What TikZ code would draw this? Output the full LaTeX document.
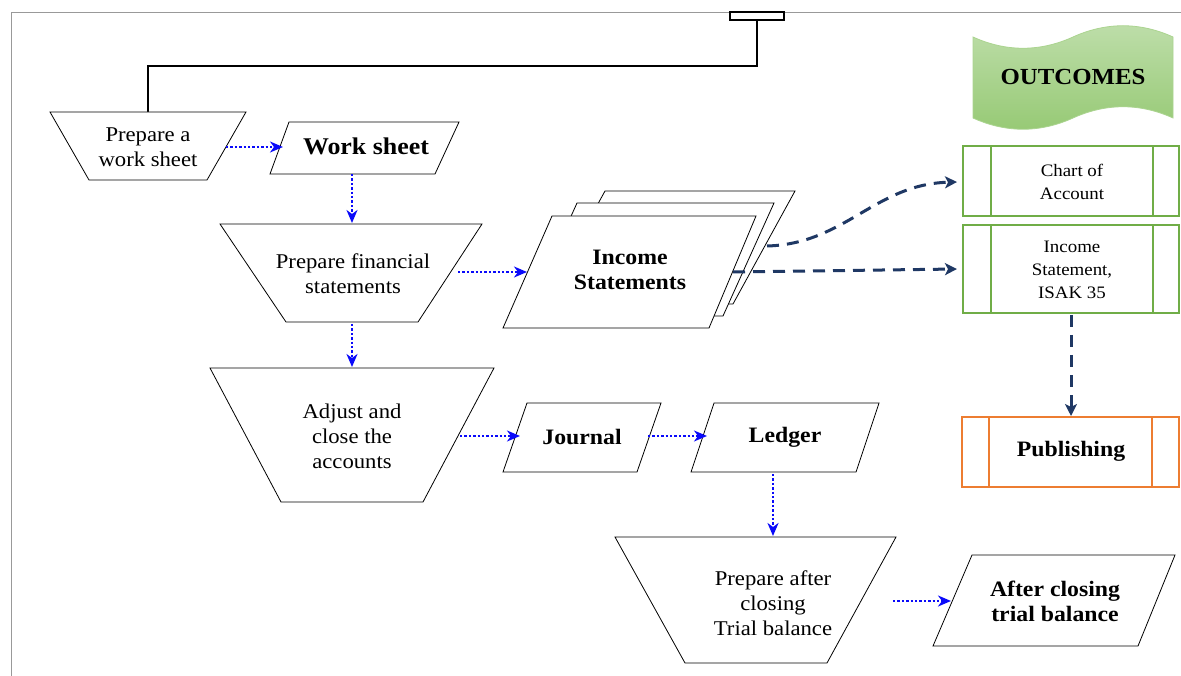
\documentclass[tikz,border=0pt]{standalone}
\usepackage{fontspec}
\setmainfont{Liberation Serif}[FakeStretch=1.08]
\usetikzlibrary{arrows.meta}
\definecolor{bluearr}{RGB}{10,10,250}
\definecolor{navy}{RGB}{31,56,100}
\definecolor{grn}{RGB}{112,173,71}
\definecolor{org}{RGB}{237,125,49}
\definecolor{grnlite}{RGB}{190,222,170}
\definecolor{grndark}{RGB}{150,201,116}
\begin{document}
\begin{tikzpicture}[x=1pt,y=-1pt,
  shp/.style={draw=black, line width=0.8pt, fill=white, line join=miter},
  txt/.style={align=center, inner sep=0pt, font=\fontsize{21}{25}\selectfont},
  btxt/.style={align=center, inner sep=0pt, font=\bfseries\fontsize{22}{25}\selectfont},
  stxt/.style={align=center, inner sep=0pt, font=\fontsize{17.5}{23}\selectfont},
  dotarr/.style={draw=bluearr, line width=2.4pt, dash pattern=on 2.4pt off 2pt, -{Stealth[length=13pt,width=11pt,inset=4pt]}},
  dasharr/.style={draw=navy, line width=3pt, dash pattern=on 12pt off 8pt, -{Stealth[length=12pt,width=12pt,inset=3pt]}},
  procbox/.style={line width=2.2pt, fill=white},
]
\useasboundingbox (0,0) rectangle (1181,676);
% frame
\draw[gray!80, line width=1pt] (11,676) -- (11,13) -- (1181,13);
% top connector
\coordinate (topc) at (757,20);
\coordinate (p1top) at (148,112);
\draw[black, line width=2pt] (topc) -- (757,66) -- (148,66) -- (p1top);
\draw[black, line width=2pt, fill=white] (730,12) rectangle (784,20);

% 1 Prepare a work sheet
\draw[shp] (50,112) -- (246,112) -- (207,180) -- (89,180) -- cycle;
\node[txt] (pws) at (148,147) {Prepare a\\work sheet};
\coordinate (pwsR) at (226,147);
% 2 Work sheet
\draw[shp] (289,122) -- (459,122) -- (435,174) -- (270,174) -- cycle;
\node[btxt, font=\bfseries\fontsize{24}{26}\selectfont] (ws) at (366,146) {Work sheet};
\coordinate (wsL) at (283,147);
\coordinate (wsB) at (352,174);
% 3 Prepare financial statements
\draw[shp] (220,224) -- (482,224) -- (418,322) -- (286,322) -- cycle;
\node[txt] (pfs) at (353,274) {Prepare financial\\statements};
\coordinate (pfsT) at (352,223);
\coordinate (pfsR) at (458,272);
\coordinate (pfsB) at (352,324);
% 4 Income statements (stacked)
\draw[shp] (605,191) -- (795,191) -- (733,304) -- (543,304) -- cycle;
\draw[shp] (577,203) -- (774,203) -- (723,316) -- (526,316) -- cycle;
\draw[shp] (552,216) -- (756,216) -- (709,328) -- (503,328) -- cycle;
\node[btxt] (inc) at (630,270) {Income\\Statements};
\coordinate (incL) at (527,272);
\coordinate (incR) at (733,272);
\coordinate (incR2) at (767,246);
% 5 Adjust and close
\draw[shp] (210,368) -- (494,368) -- (423,502) -- (281,502) -- cycle;
\node[txt] (adj) at (352,436) {Adjust and\\close the\\accounts};
\coordinate (adjT) at (352,367);
\coordinate (adjR) at (460,436);
% 6 Journal
\draw[shp] (527,403) -- (661,403) -- (637,472) -- (503,472) -- cycle;
\node[btxt] (jr) at (582,437) {Journal};
\coordinate (jrL) at (520,436);
\coordinate (jrR) at (648,436);
% 7 Ledger
\draw[shp] (714,403) -- (879,403) -- (856,472) -- (691,472) -- cycle;
\node[btxt] (lg) at (785,437) {Ledger};
\coordinate (lgL) at (707,436);
\coordinate (lgB) at (773,474);
% 8 Prepare after closing
\draw[shp] (615,537) -- (896,537) -- (827,663) -- (685,663) -- cycle;
\node[txt] (pac) at (773,603) {Prepare after\\closing\\Trial balance};
\coordinate (pacT) at (773,536);
\coordinate (pacR) at (893,601);
% 9 After closing trial balance
\draw[shp] (972,555) -- (1175,555) -- (1138,646) -- (933,646) -- cycle;
\node[btxt] (actb) at (1055,601) {After closing\\trial balance};
\coordinate (actbL) at (951,601);

% OUTCOMES banner
\shade[top color=grnlite, bottom color=grndark, draw=grndark!80, line width=0.8pt]
  (973,37) .. controls (1006,52) and (1040,52) .. (1073,37)
  .. controls (1106,22) and (1140,22) .. (1173,37)
  -- (1173,118) .. controls (1140,103) and (1106,103) .. (1073,118)
  .. controls (1040,133) and (1006,133) .. (973,118) -- cycle;
\node[btxt, font=\bfseries\fontsize{23}{26}\selectfont] (out) at (1073,77) {OUTCOMES};

% Chart of account
\draw[procbox, draw=grn] (963,146) rectangle (1179,216);
\draw[grn, line width=2.2pt] (991,146) -- (991,216) (1153,146) -- (1153,216);
\node[stxt] (coa) at (1072,182) {Chart of\\Account};
\coordinate (coaL) at (957,182);
% Income statement ISAK
\draw[procbox, draw=grn] (963,225) rectangle (1179,313);
\draw[grn, line width=2.2pt] (991,225) -- (991,313) (1153,225) -- (1153,313);
\node[stxt] (isak) at (1072,270) {Income\\Statement,\\ISAK 35};
\coordinate (isakL) at (957,269);
\coordinate (isakB) at (1071,315);
% Publishing
\draw[procbox, draw=org] (962,417) rectangle (1179,487);
\draw[org, line width=2.2pt] (989,417) -- (989,487) (1152,417) -- (1152,487);
\node[btxt] (pub) at (1071,451) {Publishing};
\coordinate (pubT) at (1071,416);

% blue dotted connectors
\draw[dotarr] (pwsR) -- (wsL);
\draw[dotarr] (wsB) -- (pfsT);
\draw[dotarr] (pfsR) -- (incL);
\draw[dotarr] (pfsB) -- (adjT);
\draw[dotarr] (adjR) -- (jrL);
\draw[dotarr] (jrR) -- (lgL);
\draw[dotarr] (lgB) -- (pacT);
\draw[dotarr] (pacR) -- (actbL);

% navy dashed connectors
\draw[dasharr] (incR2) .. controls (845,244) and (875,184) .. (coaL);
\draw[dasharr] (incR) -- (isakL);
\draw[dasharr] (isakB) -- (pubT);
\end{tikzpicture}
\end{document}
